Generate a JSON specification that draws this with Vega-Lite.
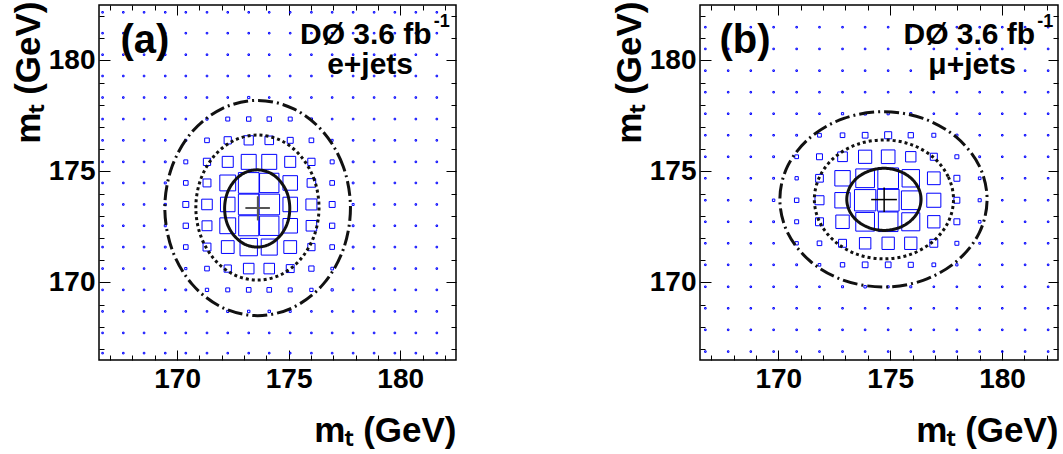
{
"$schema":"https://vega.github.io/schema/vega-lite/v6.json",
"background":"white",
"padding":{"left":10,"top":0,"right":5,"bottom":5},
"bounds":"flush",
"spacing":244,
"config":{"view":{"stroke":"black","strokeWidth":1.5},"axis":{"grid":false,"domain":false,"tickColor":"black","tickWidth":1,"labelColor":"black","titleColor":"black","labelFont":"Liberation Sans","titleFont":"Liberation Sans","labelFontWeight":"bold","titleFontWeight":"bold","labelFlush":false,"labelOverlap":false}},
"datasets":{
"boxA":[
{"x":166.66,"y":182.17,"w":0.07},{"x":167.59,"y":182.17,"w":0.07},{"x":168.52,"y":182.17,"w":0.07},{"x":169.47,"y":182.17,"w":0.07},{"x":170.39,"y":182.17,"w":0.07},{"x":171.34,"y":182.17,"w":0.07},{"x":172.27,"y":182.17,"w":0.07},{"x":173.21,"y":182.17,"w":0.07},{"x":174.13,"y":182.17,"w":0.07},{"x":175.07,"y":182.17,"w":0.07},{"x":176.02,"y":182.17,"w":0.07},{"x":176.95,"y":182.17,"w":0.07},{"x":177.89,"y":182.17,"w":0.07},{"x":178.83,"y":182.17,"w":0.07},{"x":179.76,"y":182.17,"w":0.07},{"x":180.7,"y":182.17,"w":0.07},{"x":181.64,"y":182.17,"w":0.07},
{"x":166.66,"y":181.23,"w":0.07},{"x":167.59,"y":181.23,"w":0.07},{"x":168.52,"y":181.23,"w":0.07},{"x":169.47,"y":181.23,"w":0.07},{"x":170.39,"y":181.23,"w":0.07},{"x":171.34,"y":181.23,"w":0.07},{"x":172.27,"y":181.23,"w":0.07},{"x":173.21,"y":181.23,"w":0.07},{"x":174.13,"y":181.23,"w":0.07},{"x":175.07,"y":181.23,"w":0.07},{"x":176.02,"y":181.23,"w":0.07},{"x":176.95,"y":181.23,"w":0.07},{"x":177.89,"y":181.23,"w":0.07},{"x":178.83,"y":181.23,"w":0.07},{"x":179.76,"y":181.23,"w":0.07},{"x":180.7,"y":181.23,"w":0.07},{"x":181.64,"y":181.23,"w":0.07},
{"x":166.66,"y":180.26,"w":0.07},{"x":167.59,"y":180.26,"w":0.07},{"x":168.52,"y":180.26,"w":0.07},{"x":169.47,"y":180.26,"w":0.07},{"x":170.39,"y":180.26,"w":0.07},{"x":171.34,"y":180.26,"w":0.07},{"x":172.27,"y":180.26,"w":0.07},{"x":173.21,"y":180.26,"w":0.07},{"x":174.13,"y":180.26,"w":0.07},{"x":175.07,"y":180.26,"w":0.07},{"x":176.02,"y":180.26,"w":0.07},{"x":176.95,"y":180.26,"w":0.07},{"x":177.89,"y":180.26,"w":0.07},{"x":178.83,"y":180.26,"w":0.07},{"x":179.76,"y":180.26,"w":0.07},{"x":180.7,"y":180.26,"w":0.07},{"x":181.64,"y":180.26,"w":0.07},
{"x":166.66,"y":179.3,"w":0.07},{"x":167.59,"y":179.3,"w":0.07},{"x":168.52,"y":179.3,"w":0.07},{"x":169.47,"y":179.3,"w":0.07},{"x":170.39,"y":179.3,"w":0.07},{"x":171.34,"y":179.3,"w":0.07},{"x":172.27,"y":179.3,"w":0.07},{"x":173.21,"y":179.3,"w":0.07},{"x":174.13,"y":179.3,"w":0.07},{"x":175.07,"y":179.3,"w":0.07},{"x":176.02,"y":179.3,"w":0.07},{"x":176.95,"y":179.3,"w":0.07},{"x":177.89,"y":179.3,"w":0.07},{"x":178.83,"y":179.3,"w":0.07},{"x":179.76,"y":179.3,"w":0.07},{"x":180.7,"y":179.3,"w":0.07},{"x":181.64,"y":179.3,"w":0.07},
{"x":166.66,"y":178.33,"w":0.07},{"x":167.59,"y":178.33,"w":0.07},{"x":168.52,"y":178.33,"w":0.07},{"x":169.47,"y":178.33,"w":0.07},{"x":170.39,"y":178.33,"w":0.07},{"x":171.34,"y":178.33,"w":0.07},{"x":172.27,"y":178.33,"w":0.07},{"x":173.21,"y":178.33,"w":0.1},{"x":174.13,"y":178.33,"w":0.07},{"x":175.07,"y":178.33,"w":0.07},{"x":176.02,"y":178.33,"w":0.07},{"x":176.95,"y":178.33,"w":0.07},{"x":177.89,"y":178.33,"w":0.07},{"x":178.83,"y":178.33,"w":0.07},{"x":179.76,"y":178.33,"w":0.07},{"x":180.7,"y":178.33,"w":0.07},{"x":181.64,"y":178.33,"w":0.07},
{"x":166.66,"y":177.36,"w":0.07},{"x":167.59,"y":177.36,"w":0.07},{"x":168.52,"y":177.36,"w":0.07},{"x":169.47,"y":177.36,"w":0.07},{"x":170.39,"y":177.36,"w":0.07},{"x":171.34,"y":177.36,"w":0.1},{"x":172.27,"y":177.36,"w":0.18},{"x":173.21,"y":177.36,"w":0.2},{"x":174.13,"y":177.36,"w":0.2},{"x":175.07,"y":177.36,"w":0.18},{"x":176.02,"y":177.36,"w":0.1},{"x":176.95,"y":177.36,"w":0.07},{"x":177.89,"y":177.36,"w":0.07},{"x":178.83,"y":177.36,"w":0.07},{"x":179.76,"y":177.36,"w":0.07},{"x":180.7,"y":177.36,"w":0.07},{"x":181.64,"y":177.36,"w":0.07},
{"x":166.66,"y":176.4,"w":0.07},{"x":167.59,"y":176.4,"w":0.07},{"x":168.52,"y":176.4,"w":0.07},{"x":169.47,"y":176.4,"w":0.07},{"x":170.39,"y":176.4,"w":0.09},{"x":171.34,"y":176.4,"w":0.21},{"x":172.27,"y":176.4,"w":0.33},{"x":173.21,"y":176.4,"w":0.42},{"x":174.13,"y":176.4,"w":0.39},{"x":175.07,"y":176.4,"w":0.27},{"x":176.02,"y":176.4,"w":0.21},{"x":176.95,"y":176.4,"w":0.09},{"x":177.89,"y":176.4,"w":0.07},{"x":178.83,"y":176.4,"w":0.07},{"x":179.76,"y":176.4,"w":0.07},{"x":180.7,"y":176.4,"w":0.07},{"x":181.64,"y":176.4,"w":0.07},
{"x":166.66,"y":175.43,"w":0.07},{"x":167.59,"y":175.43,"w":0.07},{"x":168.52,"y":175.43,"w":0.07},{"x":169.47,"y":175.43,"w":0.08},{"x":170.39,"y":175.43,"w":0.18},{"x":171.34,"y":175.43,"w":0.33},{"x":172.27,"y":175.43,"w":0.5},{"x":173.21,"y":175.43,"w":0.68},{"x":174.13,"y":175.43,"w":0.68},{"x":175.07,"y":175.43,"w":0.5},{"x":176.02,"y":175.43,"w":0.33},{"x":176.95,"y":175.43,"w":0.18},{"x":177.89,"y":175.43,"w":0.08},{"x":178.83,"y":175.43,"w":0.07},{"x":179.76,"y":175.43,"w":0.07},{"x":180.7,"y":175.43,"w":0.07},{"x":181.64,"y":175.43,"w":0.07},
{"x":166.66,"y":174.48,"w":0.07},{"x":167.59,"y":174.48,"w":0.07},{"x":168.52,"y":174.48,"w":0.07},{"x":169.47,"y":174.48,"w":0.09},{"x":170.39,"y":174.48,"w":0.21},{"x":171.34,"y":174.48,"w":0.36},{"x":172.27,"y":174.48,"w":0.72},{"x":173.21,"y":174.48,"w":0.94},{"x":174.13,"y":174.48,"w":0.88},{"x":175.07,"y":174.48,"w":0.66},{"x":176.02,"y":174.48,"w":0.39},{"x":176.95,"y":174.48,"w":0.21},{"x":177.89,"y":174.48,"w":0.08},{"x":178.83,"y":174.48,"w":0.07},{"x":179.76,"y":174.48,"w":0.07},{"x":180.7,"y":174.48,"w":0.07},{"x":181.64,"y":174.48,"w":0.07},
{"x":166.66,"y":173.51,"w":0.07},{"x":167.59,"y":173.51,"w":0.07},{"x":168.52,"y":173.51,"w":0.07},{"x":169.47,"y":173.51,"w":0.1},{"x":170.39,"y":173.51,"w":0.27},{"x":171.34,"y":173.51,"w":0.48},{"x":172.27,"y":173.51,"w":0.66},{"x":173.21,"y":173.51,"w":0.94},{"x":174.13,"y":173.51,"w":0.94},{"x":175.07,"y":173.51,"w":0.66},{"x":176.02,"y":173.51,"w":0.5},{"x":176.95,"y":173.51,"w":0.27},{"x":177.89,"y":173.51,"w":0.09},{"x":178.83,"y":173.51,"w":0.07},{"x":179.76,"y":173.51,"w":0.07},{"x":180.7,"y":173.51,"w":0.07},{"x":181.64,"y":173.51,"w":0.07},
{"x":166.66,"y":172.55,"w":0.07},{"x":167.59,"y":172.55,"w":0.07},{"x":168.52,"y":172.55,"w":0.07},{"x":169.47,"y":172.55,"w":0.09},{"x":170.39,"y":172.55,"w":0.24},{"x":171.34,"y":172.55,"w":0.45},{"x":172.27,"y":172.55,"w":0.72},{"x":173.21,"y":172.55,"w":0.91},{"x":174.13,"y":172.55,"w":0.88},{"x":175.07,"y":172.55,"w":0.66},{"x":176.02,"y":172.55,"w":0.48},{"x":176.95,"y":172.55,"w":0.24},{"x":177.89,"y":172.55,"w":0.08},{"x":178.83,"y":172.55,"w":0.07},{"x":179.76,"y":172.55,"w":0.07},{"x":180.7,"y":172.55,"w":0.07},{"x":181.64,"y":172.55,"w":0.07},
{"x":166.66,"y":171.59,"w":0.07},{"x":167.59,"y":171.59,"w":0.07},{"x":168.52,"y":171.59,"w":0.07},{"x":169.47,"y":171.59,"w":0.08},{"x":170.39,"y":171.59,"w":0.21},{"x":171.34,"y":171.59,"w":0.36},{"x":172.27,"y":171.59,"w":0.58},{"x":173.21,"y":171.59,"w":0.79},{"x":174.13,"y":171.59,"w":0.73},{"x":175.07,"y":171.59,"w":0.58},{"x":176.02,"y":171.59,"w":0.33},{"x":176.95,"y":171.59,"w":0.21},{"x":177.89,"y":171.59,"w":0.08},{"x":178.83,"y":171.59,"w":0.07},{"x":179.76,"y":171.59,"w":0.07},{"x":180.7,"y":171.59,"w":0.07},{"x":181.64,"y":171.59,"w":0.07},
{"x":166.66,"y":170.62,"w":0.07},{"x":167.59,"y":170.62,"w":0.07},{"x":168.52,"y":170.62,"w":0.07},{"x":169.47,"y":170.62,"w":0.07},{"x":170.39,"y":170.62,"w":0.1},{"x":171.34,"y":170.62,"w":0.21},{"x":172.27,"y":170.62,"w":0.33},{"x":173.21,"y":170.62,"w":0.48},{"x":174.13,"y":170.62,"w":0.48},{"x":175.07,"y":170.62,"w":0.36},{"x":176.02,"y":170.62,"w":0.24},{"x":176.95,"y":170.62,"w":0.12},{"x":177.89,"y":170.62,"w":0.07},{"x":178.83,"y":170.62,"w":0.07},{"x":179.76,"y":170.62,"w":0.07},{"x":180.7,"y":170.62,"w":0.07},{"x":181.64,"y":170.62,"w":0.07},
{"x":166.66,"y":169.66,"w":0.07},{"x":167.59,"y":169.66,"w":0.07},{"x":168.52,"y":169.66,"w":0.07},{"x":169.47,"y":169.66,"w":0.07},{"x":170.39,"y":169.66,"w":0.08},{"x":171.34,"y":169.66,"w":0.15},{"x":172.27,"y":169.66,"w":0.18},{"x":173.21,"y":169.66,"w":0.21},{"x":174.13,"y":169.66,"w":0.21},{"x":175.07,"y":169.66,"w":0.18},{"x":176.02,"y":169.66,"w":0.15},{"x":176.95,"y":169.66,"w":0.1},{"x":177.89,"y":169.66,"w":0.07},{"x":178.83,"y":169.66,"w":0.07},{"x":179.76,"y":169.66,"w":0.07},{"x":180.7,"y":169.66,"w":0.07},{"x":181.64,"y":169.66,"w":0.07},
{"x":166.66,"y":168.69,"w":0.07},{"x":167.59,"y":168.69,"w":0.07},{"x":168.52,"y":168.69,"w":0.07},{"x":169.47,"y":168.69,"w":0.07},{"x":170.39,"y":168.69,"w":0.07},{"x":171.34,"y":168.69,"w":0.07},{"x":172.27,"y":168.69,"w":0.1},{"x":173.21,"y":168.69,"w":0.11},{"x":174.13,"y":168.69,"w":0.11},{"x":175.07,"y":168.69,"w":0.09},{"x":176.02,"y":168.69,"w":0.07},{"x":176.95,"y":168.69,"w":0.07},{"x":177.89,"y":168.69,"w":0.07},{"x":178.83,"y":168.69,"w":0.07},{"x":179.76,"y":168.69,"w":0.07},{"x":180.7,"y":168.69,"w":0.07},{"x":181.64,"y":168.69,"w":0.07},
{"x":166.66,"y":167.72,"w":0.07},{"x":167.59,"y":167.72,"w":0.07},{"x":168.52,"y":167.72,"w":0.07},{"x":169.47,"y":167.72,"w":0.07},{"x":170.39,"y":167.72,"w":0.07},{"x":171.34,"y":167.72,"w":0.07},{"x":172.27,"y":167.72,"w":0.07},{"x":173.21,"y":167.72,"w":0.07},{"x":174.13,"y":167.72,"w":0.07},{"x":175.07,"y":167.72,"w":0.07},{"x":176.02,"y":167.72,"w":0.07},{"x":176.95,"y":167.72,"w":0.07},{"x":177.89,"y":167.72,"w":0.07},{"x":178.83,"y":167.72,"w":0.07},{"x":179.76,"y":167.72,"w":0.07},{"x":180.7,"y":167.72,"w":0.07},{"x":181.64,"y":167.72,"w":0.07},
{"x":166.66,"y":166.81,"w":0.07},{"x":167.59,"y":166.81,"w":0.07},{"x":168.52,"y":166.81,"w":0.07},{"x":169.47,"y":166.81,"w":0.07},{"x":170.39,"y":166.81,"w":0.07},{"x":171.34,"y":166.81,"w":0.07},{"x":172.27,"y":166.81,"w":0.07},{"x":173.21,"y":166.81,"w":0.07},{"x":174.13,"y":166.81,"w":0.07},{"x":175.07,"y":166.81,"w":0.07},{"x":176.02,"y":166.81,"w":0.07},{"x":176.95,"y":166.81,"w":0.07},{"x":177.89,"y":166.81,"w":0.07},{"x":178.83,"y":166.81,"w":0.07},{"x":179.76,"y":166.81,"w":0.07},{"x":180.7,"y":166.81,"w":0.07},{"x":181.64,"y":166.81,"w":0.07}
],
"boxB":[
{"x":166.74,"y":181.5,"w":0.07},{"x":167.76,"y":181.5,"w":0.07},{"x":168.77,"y":181.5,"w":0.07},{"x":169.79,"y":181.5,"w":0.07},{"x":170.82,"y":181.5,"w":0.07},{"x":171.84,"y":181.5,"w":0.07},{"x":172.87,"y":181.5,"w":0.07},{"x":173.88,"y":181.5,"w":0.07},{"x":174.91,"y":181.5,"w":0.07},{"x":175.92,"y":181.5,"w":0.07},{"x":176.95,"y":181.5,"w":0.07},{"x":177.98,"y":181.5,"w":0.07},{"x":179.0,"y":181.5,"w":0.07},{"x":180.01,"y":181.5,"w":0.07},{"x":181.03,"y":181.5,"w":0.07},{"x":182.06,"y":181.5,"w":0.07},
{"x":166.74,"y":180.52,"w":0.07},{"x":167.76,"y":180.52,"w":0.07},{"x":168.77,"y":180.52,"w":0.07},{"x":169.79,"y":180.52,"w":0.07},{"x":170.82,"y":180.52,"w":0.07},{"x":171.84,"y":180.52,"w":0.07},{"x":172.87,"y":180.52,"w":0.07},{"x":173.88,"y":180.52,"w":0.07},{"x":174.91,"y":180.52,"w":0.07},{"x":175.92,"y":180.52,"w":0.07},{"x":176.95,"y":180.52,"w":0.07},{"x":177.98,"y":180.52,"w":0.07},{"x":179.0,"y":180.52,"w":0.07},{"x":180.01,"y":180.52,"w":0.07},{"x":181.03,"y":180.52,"w":0.07},{"x":182.06,"y":180.52,"w":0.07},
{"x":166.74,"y":179.54,"w":0.07},{"x":167.76,"y":179.54,"w":0.07},{"x":168.77,"y":179.54,"w":0.07},{"x":169.79,"y":179.54,"w":0.07},{"x":170.82,"y":179.54,"w":0.07},{"x":171.84,"y":179.54,"w":0.07},{"x":172.87,"y":179.54,"w":0.07},{"x":173.88,"y":179.54,"w":0.07},{"x":174.91,"y":179.54,"w":0.07},{"x":175.92,"y":179.54,"w":0.07},{"x":176.95,"y":179.54,"w":0.07},{"x":177.98,"y":179.54,"w":0.07},{"x":179.0,"y":179.54,"w":0.07},{"x":180.01,"y":179.54,"w":0.07},{"x":181.03,"y":179.54,"w":0.07},{"x":182.06,"y":179.54,"w":0.07},
{"x":166.74,"y":178.57,"w":0.07},{"x":167.76,"y":178.57,"w":0.07},{"x":168.77,"y":178.57,"w":0.07},{"x":169.79,"y":178.57,"w":0.07},{"x":170.82,"y":178.57,"w":0.07},{"x":171.84,"y":178.57,"w":0.07},{"x":172.87,"y":178.57,"w":0.07},{"x":173.88,"y":178.57,"w":0.07},{"x":174.91,"y":178.57,"w":0.07},{"x":175.92,"y":178.57,"w":0.07},{"x":176.95,"y":178.57,"w":0.07},{"x":177.98,"y":178.57,"w":0.07},{"x":179.0,"y":178.57,"w":0.07},{"x":180.01,"y":178.57,"w":0.07},{"x":181.03,"y":178.57,"w":0.07},{"x":182.06,"y":178.57,"w":0.07},
{"x":166.74,"y":177.6,"w":0.07},{"x":167.76,"y":177.6,"w":0.07},{"x":168.77,"y":177.6,"w":0.07},{"x":169.79,"y":177.6,"w":0.07},{"x":170.82,"y":177.6,"w":0.07},{"x":171.84,"y":177.6,"w":0.07},{"x":172.87,"y":177.6,"w":0.1},{"x":173.88,"y":177.6,"w":0.12},{"x":174.91,"y":177.6,"w":0.1},{"x":175.92,"y":177.6,"w":0.1},{"x":176.95,"y":177.6,"w":0.07},{"x":177.98,"y":177.6,"w":0.07},{"x":179.0,"y":177.6,"w":0.07},{"x":180.01,"y":177.6,"w":0.07},{"x":181.03,"y":177.6,"w":0.07},{"x":182.06,"y":177.6,"w":0.07},
{"x":166.74,"y":176.63,"w":0.07},{"x":167.76,"y":176.63,"w":0.07},{"x":168.77,"y":176.63,"w":0.07},{"x":169.79,"y":176.63,"w":0.07},{"x":170.82,"y":176.63,"w":0.08},{"x":171.84,"y":176.63,"w":0.17},{"x":172.87,"y":176.63,"w":0.21},{"x":173.88,"y":176.63,"w":0.26},{"x":174.91,"y":176.63,"w":0.32},{"x":175.92,"y":176.63,"w":0.24},{"x":176.95,"y":176.63,"w":0.18},{"x":177.98,"y":176.63,"w":0.1},{"x":179.0,"y":176.63,"w":0.07},{"x":180.01,"y":176.63,"w":0.07},{"x":181.03,"y":176.63,"w":0.07},{"x":182.06,"y":176.63,"w":0.07},
{"x":166.74,"y":175.66,"w":0.07},{"x":167.76,"y":175.66,"w":0.07},{"x":168.77,"y":175.66,"w":0.07},{"x":169.79,"y":175.66,"w":0.08},{"x":170.82,"y":175.66,"w":0.17},{"x":171.84,"y":175.66,"w":0.27},{"x":172.87,"y":175.66,"w":0.44},{"x":173.88,"y":175.66,"w":0.6},{"x":174.91,"y":175.66,"w":0.62},{"x":175.92,"y":175.66,"w":0.47},{"x":176.95,"y":175.66,"w":0.32},{"x":177.98,"y":175.66,"w":0.18},{"x":179.0,"y":175.66,"w":0.08},{"x":180.01,"y":175.66,"w":0.07},{"x":181.03,"y":175.66,"w":0.07},{"x":182.06,"y":175.66,"w":0.07},
{"x":166.74,"y":174.69,"w":0.07},{"x":167.76,"y":174.69,"w":0.07},{"x":168.77,"y":174.69,"w":0.07},{"x":169.79,"y":174.69,"w":0.08},{"x":170.82,"y":174.69,"w":0.15},{"x":171.84,"y":174.69,"w":0.35},{"x":172.87,"y":174.69,"w":0.7},{"x":173.88,"y":174.69,"w":0.85},{"x":174.91,"y":174.69,"w":0.94},{"x":175.92,"y":174.69,"w":0.79},{"x":176.95,"y":174.69,"w":0.58},{"x":177.98,"y":174.69,"w":0.27},{"x":179.0,"y":174.69,"w":0.12},{"x":180.01,"y":174.69,"w":0.07},{"x":181.03,"y":174.69,"w":0.07},{"x":182.06,"y":174.69,"w":0.07},
{"x":166.74,"y":173.7,"w":0.07},{"x":167.76,"y":173.7,"w":0.07},{"x":168.77,"y":173.7,"w":0.07},{"x":169.79,"y":173.7,"w":0.11},{"x":170.82,"y":173.7,"w":0.2},{"x":171.84,"y":173.7,"w":0.41},{"x":172.87,"y":173.7,"w":0.7},{"x":173.88,"y":173.7,"w":0.97},{"x":174.91,"y":173.7,"w":0.99},{"x":175.92,"y":173.7,"w":0.85},{"x":176.95,"y":173.7,"w":0.64},{"x":177.98,"y":173.7,"w":0.27},{"x":179.0,"y":173.7,"w":0.14},{"x":180.01,"y":173.7,"w":0.07},{"x":181.03,"y":173.7,"w":0.07},{"x":182.06,"y":173.7,"w":0.07},
{"x":166.74,"y":172.73,"w":0.07},{"x":167.76,"y":172.73,"w":0.07},{"x":168.77,"y":172.73,"w":0.07},{"x":169.79,"y":172.73,"w":0.08},{"x":170.82,"y":172.73,"w":0.18},{"x":171.84,"y":172.73,"w":0.36},{"x":172.87,"y":172.73,"w":0.61},{"x":173.88,"y":172.73,"w":0.85},{"x":174.91,"y":172.73,"w":0.89},{"x":175.92,"y":172.73,"w":0.82},{"x":176.95,"y":172.73,"w":0.56},{"x":177.98,"y":172.73,"w":0.27},{"x":179.0,"y":172.73,"w":0.12},{"x":180.01,"y":172.73,"w":0.07},{"x":181.03,"y":172.73,"w":0.07},{"x":182.06,"y":172.73,"w":0.07},
{"x":166.74,"y":171.76,"w":0.07},{"x":167.76,"y":171.76,"w":0.07},{"x":168.77,"y":171.76,"w":0.07},{"x":169.79,"y":171.76,"w":0.07},{"x":170.82,"y":171.76,"w":0.15},{"x":171.84,"y":171.76,"w":0.21},{"x":172.87,"y":171.76,"w":0.36},{"x":173.88,"y":171.76,"w":0.52},{"x":174.91,"y":171.76,"w":0.56},{"x":175.92,"y":171.76,"w":0.56},{"x":176.95,"y":171.76,"w":0.36},{"x":177.98,"y":171.76,"w":0.18},{"x":179.0,"y":171.76,"w":0.08},{"x":180.01,"y":171.76,"w":0.07},{"x":181.03,"y":171.76,"w":0.07},{"x":182.06,"y":171.76,"w":0.07},
{"x":166.74,"y":170.79,"w":0.07},{"x":167.76,"y":170.79,"w":0.07},{"x":168.77,"y":170.79,"w":0.07},{"x":169.79,"y":170.79,"w":0.07},{"x":170.82,"y":170.79,"w":0.08},{"x":171.84,"y":170.79,"w":0.12},{"x":172.87,"y":170.79,"w":0.2},{"x":173.88,"y":170.79,"w":0.26},{"x":174.91,"y":170.79,"w":0.26},{"x":175.92,"y":170.79,"w":0.23},{"x":176.95,"y":170.79,"w":0.17},{"x":177.98,"y":170.79,"w":0.1},{"x":179.0,"y":170.79,"w":0.07},{"x":180.01,"y":170.79,"w":0.07},{"x":181.03,"y":170.79,"w":0.07},{"x":182.06,"y":170.79,"w":0.07},
{"x":166.74,"y":169.8,"w":0.07},{"x":167.76,"y":169.8,"w":0.07},{"x":168.77,"y":169.8,"w":0.07},{"x":169.79,"y":169.8,"w":0.07},{"x":170.82,"y":169.8,"w":0.07},{"x":171.84,"y":169.8,"w":0.07},{"x":172.87,"y":169.8,"w":0.09},{"x":173.88,"y":169.8,"w":0.11},{"x":174.91,"y":169.8,"w":0.09},{"x":175.92,"y":169.8,"w":0.09},{"x":176.95,"y":169.8,"w":0.07},{"x":177.98,"y":169.8,"w":0.07},{"x":179.0,"y":169.8,"w":0.07},{"x":180.01,"y":169.8,"w":0.07},{"x":181.03,"y":169.8,"w":0.07},{"x":182.06,"y":169.8,"w":0.07},
{"x":166.74,"y":168.83,"w":0.07},{"x":167.76,"y":168.83,"w":0.07},{"x":168.77,"y":168.83,"w":0.07},{"x":169.79,"y":168.83,"w":0.07},{"x":170.82,"y":168.83,"w":0.07},{"x":171.84,"y":168.83,"w":0.07},{"x":172.87,"y":168.83,"w":0.07},{"x":173.88,"y":168.83,"w":0.07},{"x":174.91,"y":168.83,"w":0.07},{"x":175.92,"y":168.83,"w":0.07},{"x":176.95,"y":168.83,"w":0.07},{"x":177.98,"y":168.83,"w":0.07},{"x":179.0,"y":168.83,"w":0.07},{"x":180.01,"y":168.83,"w":0.07},{"x":181.03,"y":168.83,"w":0.07},{"x":182.06,"y":168.83,"w":0.07},
{"x":166.74,"y":167.86,"w":0.07},{"x":167.76,"y":167.86,"w":0.07},{"x":168.77,"y":167.86,"w":0.07},{"x":169.79,"y":167.86,"w":0.07},{"x":170.82,"y":167.86,"w":0.07},{"x":171.84,"y":167.86,"w":0.07},{"x":172.87,"y":167.86,"w":0.07},{"x":173.88,"y":167.86,"w":0.07},{"x":174.91,"y":167.86,"w":0.07},{"x":175.92,"y":167.86,"w":0.07},{"x":176.95,"y":167.86,"w":0.07},{"x":177.98,"y":167.86,"w":0.07},{"x":179.0,"y":167.86,"w":0.07},{"x":180.01,"y":167.86,"w":0.07},{"x":181.03,"y":167.86,"w":0.07},{"x":182.06,"y":167.86,"w":0.07},
{"x":166.74,"y":166.88,"w":0.07},{"x":167.76,"y":166.88,"w":0.07},{"x":168.77,"y":166.88,"w":0.07},{"x":169.79,"y":166.88,"w":0.07},{"x":170.82,"y":166.88,"w":0.07},{"x":171.84,"y":166.88,"w":0.07},{"x":172.87,"y":166.88,"w":0.07},{"x":173.88,"y":166.88,"w":0.07},{"x":174.91,"y":166.88,"w":0.07},{"x":175.92,"y":166.88,"w":0.07},{"x":176.95,"y":166.88,"w":0.07},{"x":177.98,"y":166.88,"w":0.07},{"x":179.0,"y":166.88,"w":0.07},{"x":180.01,"y":166.88,"w":0.07},{"x":181.03,"y":166.88,"w":0.07},{"x":182.06,"y":166.88,"w":0.07}
],
"ellA":[
{"c":"1s","k":0,"x":175.05,"y":173.33},{"c":"1s","k":1,"x":174.94,"y":174.0},{"c":"1s","k":2,"x":174.62,"y":174.56},{"c":"1s","k":3,"x":174.15,"y":174.94},{"c":"1s","k":4,"x":173.59,"y":175.07},{"c":"1s","k":5,"x":173.03,"y":174.94},{"c":"1s","k":6,"x":172.56,"y":174.56},{"c":"1s","k":7,"x":172.24,"y":174.0},{"c":"1s","k":8,"x":172.13,"y":173.33},{"c":"1s","k":9,"x":172.24,"y":172.66},{"c":"1s","k":10,"x":172.56,"y":172.1},{"c":"1s","k":11,"x":173.03,"y":171.72},{"c":"1s","k":12,"x":173.59,"y":171.59},{"c":"1s","k":13,"x":174.15,"y":171.72},{"c":"1s","k":14,"x":174.62,"y":172.1},{"c":"1s","k":15,"x":174.94,"y":172.66},
{"c":"2s","k":0,"x":176.36,"y":173.37},{"c":"2s","k":1,"x":176.15,"y":174.62},{"c":"2s","k":2,"x":175.55,"y":175.68},{"c":"2s","k":3,"x":174.66,"y":176.39},{"c":"2s","k":4,"x":173.6,"y":176.64},{"c":"2s","k":5,"x":172.54,"y":176.39},{"c":"2s","k":6,"x":171.65,"y":175.68},{"c":"2s","k":7,"x":171.05,"y":174.62},{"c":"2s","k":8,"x":170.84,"y":173.37},{"c":"2s","k":9,"x":171.05,"y":172.12},{"c":"2s","k":10,"x":171.65,"y":171.06},{"c":"2s","k":11,"x":172.54,"y":170.35},{"c":"2s","k":12,"x":173.6,"y":170.1},{"c":"2s","k":13,"x":174.66,"y":170.35},{"c":"2s","k":14,"x":175.55,"y":171.06},{"c":"2s","k":15,"x":176.15,"y":172.12},
{"c":"3s","k":0,"x":177.77,"y":173.35},{"c":"3s","k":1,"x":177.45,"y":175.21},{"c":"3s","k":2,"x":176.55,"y":176.78},{"c":"3s","k":3,"x":175.2,"y":177.83},{"c":"3s","k":4,"x":173.61,"y":178.2},{"c":"3s","k":5,"x":172.02,"y":177.83},{"c":"3s","k":6,"x":170.67,"y":176.78},{"c":"3s","k":7,"x":169.77,"y":175.21},{"c":"3s","k":8,"x":169.45,"y":173.35},{"c":"3s","k":9,"x":169.77,"y":171.49},{"c":"3s","k":10,"x":170.67,"y":169.92},{"c":"3s","k":11,"x":172.02,"y":168.87},{"c":"3s","k":12,"x":173.61,"y":168.5},{"c":"3s","k":13,"x":175.2,"y":168.87},{"c":"3s","k":14,"x":176.55,"y":169.92},{"c":"3s","k":15,"x":177.45,"y":171.49}
],
"ellB":[
{"c":"1s","k":0,"x":176.38,"y":173.74},{"c":"1s","k":1,"x":176.25,"y":174.28},{"c":"1s","k":2,"x":175.89,"y":174.73},{"c":"1s","k":3,"x":175.36,"y":175.03},{"c":"1s","k":4,"x":174.72,"y":175.14},{"c":"1s","k":5,"x":174.09,"y":175.03},{"c":"1s","k":6,"x":173.55,"y":174.73},{"c":"1s","k":7,"x":173.19,"y":174.28},{"c":"1s","k":8,"x":173.06,"y":173.74},{"c":"1s","k":9,"x":173.19,"y":173.2},{"c":"1s","k":10,"x":173.55,"y":172.75},{"c":"1s","k":11,"x":174.09,"y":172.45},{"c":"1s","k":12,"x":174.72,"y":172.34},{"c":"1s","k":13,"x":175.36,"y":172.45},{"c":"1s","k":14,"x":175.89,"y":172.75},{"c":"1s","k":15,"x":176.25,"y":173.2},
{"c":"2s","k":0,"x":177.83,"y":173.74},{"c":"2s","k":1,"x":177.59,"y":174.77},{"c":"2s","k":2,"x":176.92,"y":175.64},{"c":"2s","k":3,"x":175.91,"y":176.22},{"c":"2s","k":4,"x":174.72,"y":176.42},{"c":"2s","k":5,"x":173.53,"y":176.22},{"c":"2s","k":6,"x":172.52,"y":175.64},{"c":"2s","k":7,"x":171.85,"y":174.77},{"c":"2s","k":8,"x":171.61,"y":173.74},{"c":"2s","k":9,"x":171.85,"y":172.71},{"c":"2s","k":10,"x":172.52,"y":171.85},{"c":"2s","k":11,"x":173.53,"y":171.26},{"c":"2s","k":12,"x":174.72,"y":171.06},{"c":"2s","k":13,"x":175.91,"y":171.26},{"c":"2s","k":14,"x":176.92,"y":171.85},{"c":"2s","k":15,"x":177.59,"y":172.71},
{"c":"3s","k":0,"x":179.33,"y":173.74},{"c":"3s","k":1,"x":178.98,"y":175.25},{"c":"3s","k":2,"x":177.97,"y":176.53},{"c":"3s","k":3,"x":176.47,"y":177.39},{"c":"3s","k":4,"x":174.7,"y":177.69},{"c":"3s","k":5,"x":172.93,"y":177.39},{"c":"3s","k":6,"x":171.43,"y":176.53},{"c":"3s","k":7,"x":170.42,"y":175.25},{"c":"3s","k":8,"x":170.07,"y":173.74},{"c":"3s","k":9,"x":170.42,"y":172.23},{"c":"3s","k":10,"x":171.43,"y":170.95},{"c":"3s","k":11,"x":172.93,"y":170.09},{"c":"3s","k":12,"x":174.7,"y":169.79},{"c":"3s","k":13,"x":176.47,"y":170.09},{"c":"3s","k":14,"x":177.97,"y":170.95},{"c":"3s","k":15,"x":178.98,"y":172.23}
],
"fitA":[{"x":173.06,"x2":174.16,"y":173.35,"y2":173.35},{"x":173.62,"x2":173.62,"y":172.79,"y2":173.88}],
"fitB":[{"x":174.15,"x2":175.3,"y":173.73,"y2":173.73},{"x":174.73,"x2":174.73,"y":173.17,"y2":174.28}]
},
"hconcat":[
{
"width":357,"height":355,
"resolve":{"axis":{"x":"independent","y":"independent"}},
"layer":[
{"data":{"name":"boxA"},
 "mark":{"type":"point","shape":"square","filled":false,"stroke":"#0000ff","strokeWidth":1,"opacity":1},
 "encoding":{
  "x":{"field":"x","type":"quantitative","scale":{"domain":[166.5,182.5],"nice":false,"zero":false},
   "axis":{"orient":"bottom","values":[170,175,180],"tickSize":-10,"labelFontSize":28,"labelPadding":37.7,"labelBaseline":"alphabetic","title":"mₜ (GeV)","titleFontSize":35,"titleAnchor":"end","titleAlign":"right","titleBaseline":"alphabetic","titleX":357,"titleY":81}},
  "y":{"field":"y","type":"quantitative","scale":{"domain":[166.5,182.5],"nice":false,"zero":false},
   "axis":{"orient":"left","values":[170,175,180],"tickSize":-11,"labelFontSize":28,"labelPadding":15,"labelBaseline":"middle","title":"mₜ (GeV)","titleFontSize":35,"titleAngle":270,"titleAnchor":"end","titleAlign":"right","titleBaseline":"alphabetic","titleX":-60,"titleY":-4}},
  "size":{"field":"w","type":"quantitative","scale":{"type":"pow","exponent":2,"domain":[0,1],"range":[0,484]},"legend":null}
 }},
{"data":{"name":"ellA"},
 "mark":{"type":"line","interpolate":"cardinal-closed","stroke":"#111111","strokeWidth":3},
 "encoding":{
  "x":{"field":"x","type":"quantitative","scale":{"domain":[166.5,182.5],"nice":false,"zero":false},"axis":{"orient":"top","values":[170,175,180],"tickSize":-10,"labels":false,"title":null}},
  "y":{"field":"y","type":"quantitative","scale":{"domain":[166.5,182.5],"nice":false,"zero":false},"axis":{"orient":"right","values":[170,175,180],"tickSize":-10,"labels":false,"title":null}},
  "order":{"field":"k","type":"quantitative"},
  "strokeDash":{"field":"c","type":"nominal","scale":{"domain":["1s","2s","3s"],"range":[[1,0],[3,3],[15,4,2,4]]},"legend":null}
 }},
{"data":{"name":"fitA"},
 "mark":{"type":"rule","stroke":"#555555","strokeWidth":2},
 "encoding":{
  "x":{"field":"x","type":"quantitative","scale":{"domain":[166.5,182.5],"nice":false,"zero":false},"axis":{"orient":"bottom","values":[167,168,169,171,172,173,174,176,177,178,179,181,182],"tickSize":-5,"labels":false,"title":null}},
  "x2":{"field":"x2"},
  "y":{"field":"y","type":"quantitative","scale":{"domain":[166.5,182.5],"nice":false,"zero":false},"axis":{"orient":"left","values":[167,168,169,171,172,173,174,176,177,178,179,181,182],"tickSize":-5,"labels":false,"title":null}},
  "y2":{"field":"y2"}
 }},
{"data":{"values":[{"t":"(a)","x":167.46,"y":180.34}]},
 "mark":{"type":"text","font":"Liberation Sans","fontWeight":"bold","fontSize":40,"align":"left","baseline":"alphabetic","color":"black"},
 "encoding":{
  "x":{"field":"x","type":"quantitative","scale":{"domain":[166.5,182.5],"nice":false,"zero":false},"axis":{"orient":"top","values":[167,168,169,171,172,173,174,176,177,178,179,181,182],"tickSize":-5,"labels":false,"title":null}},
  "y":{"field":"y","type":"quantitative","scale":{"domain":[166.5,182.5],"nice":false,"zero":false},"axis":{"orient":"right","values":[167,168,169,171,172,173,174,176,177,178,179,181,182],"tickSize":-5,"labels":false,"title":null}},
  "text":{"field":"t"}
 }},
{"data":{"values":[{"t":"DØ 3.6 fb","x":181.41,"y":180.75}]},
 "mark":{"type":"text","font":"Liberation Sans","fontWeight":"bold","fontSize":30,"align":"right","baseline":"alphabetic","color":"black"},
 "encoding":{
  "x":{"field":"x","type":"quantitative","scale":{"domain":[166.5,182.5],"nice":false,"zero":false},"axis":null},
  "y":{"field":"y","type":"quantitative","scale":{"domain":[166.5,182.5],"nice":false,"zero":false},"axis":null},
  "text":{"field":"t"}
 }},
{"data":{"values":[{"t":"-1","x":181.5,"y":181.5}]},
 "mark":{"type":"text","font":"Liberation Sans","fontWeight":"bold","fontSize":18,"align":"left","baseline":"alphabetic","color":"black"},
 "encoding":{
  "x":{"field":"x","type":"quantitative","scale":{"domain":[166.5,182.5],"nice":false,"zero":false},"axis":null},
  "y":{"field":"y","type":"quantitative","scale":{"domain":[166.5,182.5],"nice":false,"zero":false},"axis":null},
  "text":{"field":"t"}
 }},
{"data":{"values":[{"t":"e+jets","x":178.65,"y":179.37}]},
 "mark":{"type":"text","font":"Liberation Sans","fontWeight":"bold","fontSize":30,"align":"center","baseline":"alphabetic","color":"black"},
 "encoding":{
  "x":{"field":"x","type":"quantitative","scale":{"domain":[166.5,182.5],"nice":false,"zero":false},"axis":null},
  "y":{"field":"y","type":"quantitative","scale":{"domain":[166.5,182.5],"nice":false,"zero":false},"axis":null},
  "text":{"field":"t"}
 }}
]
},
{
"width":358,"height":355,
"resolve":{"axis":{"x":"independent","y":"independent"}},
"layer":[
{"data":{"name":"boxB"},
 "mark":{"type":"point","shape":"square","filled":false,"stroke":"#0000ff","strokeWidth":1,"opacity":1},
 "encoding":{
  "x":{"field":"x","type":"quantitative","scale":{"domain":[166.5,182.5],"nice":false,"zero":false},
   "axis":{"orient":"bottom","values":[170,175,180],"tickSize":-10,"labelFontSize":28,"labelPadding":37.7,"labelBaseline":"alphabetic","title":"mₜ (GeV)","titleFontSize":35,"titleAnchor":"end","titleAlign":"right","titleBaseline":"alphabetic","titleX":358,"titleY":81}},
  "y":{"field":"y","type":"quantitative","scale":{"domain":[166.5,182.5],"nice":false,"zero":false},
   "axis":{"orient":"left","values":[170,175,180],"tickSize":-11,"labelFontSize":28,"labelPadding":15,"labelBaseline":"middle","title":"mₜ (GeV)","titleFontSize":35,"titleAngle":270,"titleAnchor":"end","titleAlign":"right","titleBaseline":"alphabetic","titleX":-60,"titleY":-4}},
  "size":{"field":"w","type":"quantitative","scale":{"type":"pow","exponent":2,"domain":[0,1],"range":[0,484]},"legend":null}
 }},
{"data":{"name":"ellB"},
 "mark":{"type":"line","interpolate":"cardinal-closed","stroke":"#111111","strokeWidth":3},
 "encoding":{
  "x":{"field":"x","type":"quantitative","scale":{"domain":[166.5,182.5],"nice":false,"zero":false},"axis":{"orient":"top","values":[170,175,180],"tickSize":-10,"labels":false,"title":null}},
  "y":{"field":"y","type":"quantitative","scale":{"domain":[166.5,182.5],"nice":false,"zero":false},"axis":{"orient":"right","values":[170,175,180],"tickSize":-10,"labels":false,"title":null}},
  "order":{"field":"k","type":"quantitative"},
  "strokeDash":{"field":"c","type":"nominal","scale":{"domain":["1s","2s","3s"],"range":[[1,0],[3,3],[15,4,2,4]]},"legend":null}
 }},
{"data":{"name":"fitB"},
 "mark":{"type":"rule","stroke":"#000000","strokeWidth":1.5},
 "encoding":{
  "x":{"field":"x","type":"quantitative","scale":{"domain":[166.5,182.5],"nice":false,"zero":false},"axis":{"orient":"bottom","values":[167,168,169,171,172,173,174,176,177,178,179,181,182],"tickSize":-5,"labels":false,"title":null}},
  "x2":{"field":"x2"},
  "y":{"field":"y","type":"quantitative","scale":{"domain":[166.5,182.5],"nice":false,"zero":false},"axis":{"orient":"left","values":[167,168,169,171,172,173,174,176,177,178,179,181,182],"tickSize":-5,"labels":false,"title":null}},
  "y2":{"field":"y2"}
 }},
{"data":{"values":[{"t":"(b)","x":167.37,"y":180.34}]},
 "mark":{"type":"text","font":"Liberation Sans","fontWeight":"bold","fontSize":40,"align":"left","baseline":"alphabetic","color":"black"},
 "encoding":{
  "x":{"field":"x","type":"quantitative","scale":{"domain":[166.5,182.5],"nice":false,"zero":false},"axis":{"orient":"top","values":[167,168,169,171,172,173,174,176,177,178,179,181,182],"tickSize":-5,"labels":false,"title":null}},
  "y":{"field":"y","type":"quantitative","scale":{"domain":[166.5,182.5],"nice":false,"zero":false},"axis":{"orient":"right","values":[167,168,169,171,172,173,174,176,177,178,179,181,182],"tickSize":-5,"labels":false,"title":null}},
  "text":{"field":"t"}
 }},
{"data":{"values":[{"t":"DØ 3.6 fb","x":181.48,"y":180.75}]},
 "mark":{"type":"text","font":"Liberation Sans","fontWeight":"bold","fontSize":30,"align":"right","baseline":"alphabetic","color":"black"},
 "encoding":{
  "x":{"field":"x","type":"quantitative","scale":{"domain":[166.5,182.5],"nice":false,"zero":false},"axis":null},
  "y":{"field":"y","type":"quantitative","scale":{"domain":[166.5,182.5],"nice":false,"zero":false},"axis":null},
  "text":{"field":"t"}
 }},
{"data":{"values":[{"t":"-1","x":181.57,"y":181.5}]},
 "mark":{"type":"text","font":"Liberation Sans","fontWeight":"bold","fontSize":18,"align":"left","baseline":"alphabetic","color":"black"},
 "encoding":{
  "x":{"field":"x","type":"quantitative","scale":{"domain":[166.5,182.5],"nice":false,"zero":false},"axis":null},
  "y":{"field":"y","type":"quantitative","scale":{"domain":[166.5,182.5],"nice":false,"zero":false},"axis":null},
  "text":{"field":"t"}
 }},
{"data":{"values":[{"t":"μ+jets","x":178.66,"y":179.37}]},
 "mark":{"type":"text","font":"Liberation Sans","fontWeight":"bold","fontSize":30,"align":"center","baseline":"alphabetic","color":"black"},
 "encoding":{
  "x":{"field":"x","type":"quantitative","scale":{"domain":[166.5,182.5],"nice":false,"zero":false},"axis":null},
  "y":{"field":"y","type":"quantitative","scale":{"domain":[166.5,182.5],"nice":false,"zero":false},"axis":null},
  "text":{"field":"t"}
 }}
]
}
]
}
